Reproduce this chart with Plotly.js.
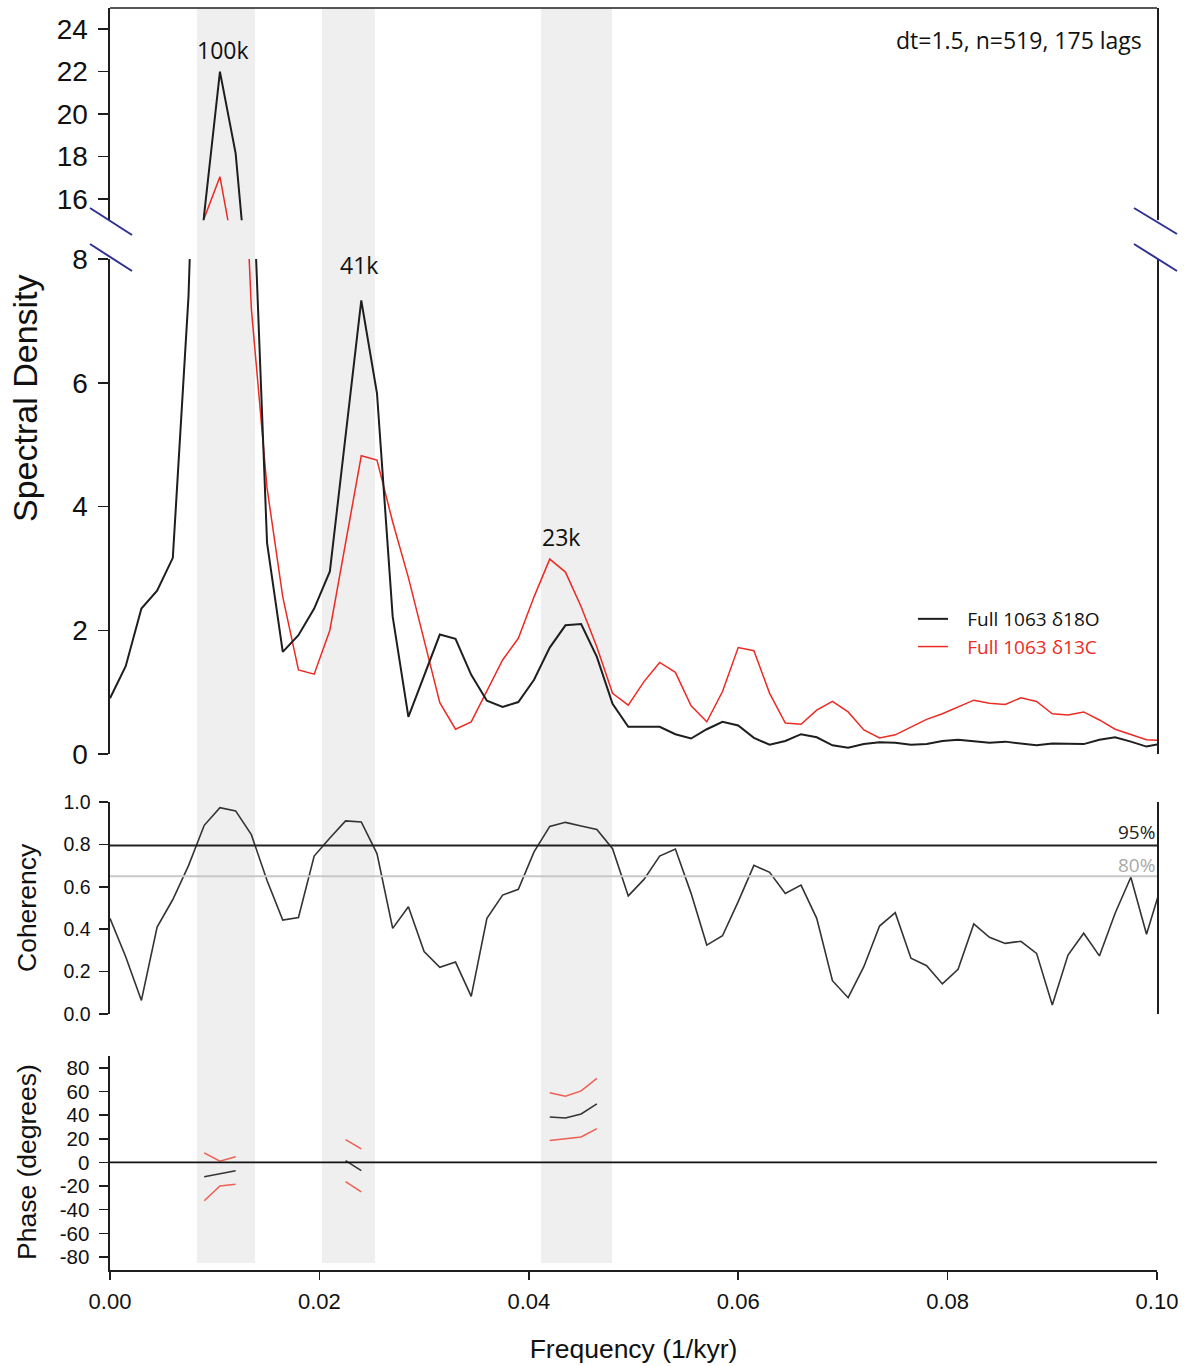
<!DOCTYPE html>
<html>
<head>
<meta charset="utf-8">
<script src="https://cdn.plot.ly/plotly-3.0.1.min.js"></script>
<style>html,body{margin:0;padding:0;background:#fff;}#chart{width:1186px;height:1366px;}</style>
</head>
<body>
<div id="chart"></div>
<script>
// ---------------- DATA ----------------
const freq = [0, 0.0015, 0.003, 0.0045, 0.006, 0.0075, 0.009, 0.0105, 0.012, 0.0135,
  0.015, 0.0165, 0.018, 0.0195, 0.021, 0.0225, 0.024, 0.0255, 0.027, 0.0285,
  0.03, 0.0315, 0.033, 0.0345, 0.036, 0.0375, 0.039, 0.0405, 0.042, 0.0435,
  0.045, 0.0465, 0.048, 0.0495, 0.051, 0.0525, 0.054, 0.0555, 0.057, 0.0585,
  0.06, 0.0615, 0.063, 0.0645, 0.066, 0.0675, 0.069, 0.0705, 0.072, 0.0735,
  0.075, 0.0765, 0.078, 0.0795, 0.081, 0.0825, 0.084, 0.0855, 0.087, 0.0885,
  0.09, 0.0915, 0.093, 0.0945, 0.096, 0.0975, 0.099, 0.1005];

const spec18O = [0.90, 1.42, 2.35, 2.64, 3.17, 7.4, 15.3, 22.0, 18.15, 10.0,
  3.41, 1.65, 1.92, 2.35, 2.95, 5.1, 7.33, 5.83, 2.22, 0.60,
  1.25, 1.93, 1.86, 1.28, 0.86, 0.76, 0.84, 1.20, 1.72, 2.08,
  2.10, 1.57, 0.81, 0.44, 0.44, 0.44, 0.32, 0.25, 0.40, 0.52,
  0.46, 0.26, 0.15, 0.21, 0.32, 0.27, 0.14, 0.10, 0.16, 0.19,
  0.18, 0.15, 0.16, 0.21, 0.23, 0.20, 0.18, 0.20, 0.17, 0.14,
  0.17, 0.17, 0.16, 0.23, 0.27, 0.20, 0.12, 0.17];

const spec13C = [null, null, null, null, null, null, 15.1, 17.05, 13.0, 7.2,
  4.3, 2.54, 1.36, 1.29, 2.0, 3.4, 4.82, 4.75, 3.75, 2.85,
  1.85, 0.83, 0.40, 0.52, 1.02, 1.52, 1.87, 2.54, 3.15, 2.94,
  2.38, 1.73, 0.98, 0.79, 1.17, 1.48, 1.32, 0.78, 0.52, 1.01,
  1.72, 1.67, 0.98, 0.50, 0.48, 0.71, 0.85, 0.68, 0.39, 0.26,
  0.31, 0.44, 0.56, 0.65, 0.76, 0.87, 0.82, 0.80, 0.91, 0.85,
  0.65, 0.63, 0.68, 0.55, 0.40, 0.31, 0.23, 0.22];

const coherency = [0.451, 0.27, 0.064, 0.41, 0.54, 0.70, 0.89, 0.973, 0.958, 0.846,
  0.63, 0.443, 0.455, 0.745, 0.83, 0.911, 0.906, 0.757, 0.404, 0.506,
  0.295, 0.22, 0.245, 0.083, 0.451, 0.561, 0.588, 0.765, 0.885, 0.904,
  0.887, 0.87, 0.78, 0.557, 0.635, 0.745, 0.778, 0.569, 0.325, 0.369,
  0.530, 0.701, 0.668, 0.569, 0.608, 0.451, 0.157, 0.077, 0.223, 0.415,
  0.478, 0.263, 0.228, 0.142, 0.211, 0.425, 0.362, 0.333, 0.343, 0.286,
  0.042, 0.278, 0.381, 0.274, 0.475, 0.645, 0.376, 0.62];

const phaseFreq  = [0.009, 0.0105, 0.012, null, 0.0225, 0.024, null, 0.042, 0.0435, 0.045, 0.0465];
const phaseMid   = [-12.2, -9.8, -7.1, null, 1.5, -7.0, null, 38.5, 37.5, 41.0, 49.5];
const phaseUpper = [8.0, 1.0, 4.8, null, 19.3, 11.4, null, 59.0, 56.0, 60.5, 71.0];
const phaseLower = [-32.4, -20.0, -18.5, null, -16.2, -25.0, null, 18.5, 20.0, 21.5, 28.5];

const bands = [[0.0083, 0.01385], [0.02025, 0.0253], [0.04117, 0.04795]];
const peakLabels = ["100k", "41k", "23k"];
const peakLabelX = [0.0108, 0.0238, 0.0431];
const peakLabelY = [23.0, 7.9, 3.5];
const level95 = 0.795, level80 = 0.65;
const seriesNames = ["Full 1063 δ18O", "Full 1063 δ13C"];
const infoText = "dt=1.5, n=519, 175 lags";
const phaseTicks = [-80, -60, -40, -20, 0, 20, 40, 60, 80];
const phaseTickText = ["-80", "-60", "-40", "-20", "0", "20", "40", "60", "80"];

// ---------------- LAYOUT HELPERS ----------------
const W = 1186, H = 1366;
const px = x => x / W;
const py = y => 1 - y / H;
const BLACK = '#1e1e1e', RED = '#ec2b24', PRED = '#ee5e52', NAVY = '#2e3192';
const AX = 'Liberation Sans, Arial, sans-serif';
const TX = 'Open Sans, Noto Sans, sans-serif';
const GAP = '\u2002\u2005';

const traces = [
  {x: freq, y: spec13C, xaxis: 'x', yaxis: 'y', mode: 'lines', line: {color: RED, width: 1.5}, showlegend: false, hoverinfo: 'skip'},
  {x: freq, y: spec18O, xaxis: 'x', yaxis: 'y', mode: 'lines', line: {color: BLACK, width: 2}, showlegend: false, hoverinfo: 'skip'},
  {x: freq, y: spec13C, xaxis: 'x', yaxis: 'y2', mode: 'lines', line: {color: RED, width: 1.5},
   name: GAP + '<span style="color:' + RED + '">' + seriesNames[1] + '</span>', legendrank: 2},
  {x: freq, y: spec18O, xaxis: 'x', yaxis: 'y2', mode: 'lines', line: {color: BLACK, width: 2},
   name: GAP + seriesNames[0], legendrank: 1},
  {x: freq, y: coherency, xaxis: 'x', yaxis: 'y3', mode: 'lines', line: {color: '#333', width: 1.6}, showlegend: false},
  {x: phaseFreq, y: phaseUpper, xaxis: 'x', yaxis: 'y4', mode: 'lines', line: {color: PRED, width: 1.5}, showlegend: false, connectgaps: false},
  {x: phaseFreq, y: phaseLower, xaxis: 'x', yaxis: 'y4', mode: 'lines', line: {color: PRED, width: 1.5}, showlegend: false, connectgaps: false},
  {x: phaseFreq, y: phaseMid, xaxis: 'x', yaxis: 'y4', mode: 'lines', line: {color: '#333', width: 1.5}, showlegend: false, connectgaps: false}
];

const yBase = {
  showline: true, linecolor: BLACK, linewidth: 1.6, ticks: 'outside', tickcolor: BLACK,
  tickwidth: 1.5, showgrid: false, zeroline: false, anchor: 'x', fixedrange: true,
  tickfont: {family: AX, color: '#111'}
};

const shapes = [];
bands.forEach(b => shapes.push({type: 'rect', xref: 'x', yref: 'paper', x0: b[0], x1: b[1],
  y0: py(1263), y1: py(8), fillcolor: '#efefef', line: {width: 0}, layer: 'below'}));
shapes.push({type: 'line', xref: 'paper', yref: 'paper', x0: px(110), x1: px(1157), y0: py(8), y1: py(8), line: {color: BLACK, width: 1.6}});
shapes.push({type: 'line', xref: 'x', yref: 'y3', x0: 0, x1: 0.1, y0: level95, y1: level95, line: {color: '#222', width: 2}});
shapes.push({type: 'line', xref: 'x', yref: 'y3', x0: 0, x1: 0.1, y0: level80, y1: level80, line: {color: '#c8c8c8', width: 2}});
shapes.push({type: 'line', xref: 'x', yref: 'y4', x0: 0, x1: 0.1, y0: 0, y1: 0, line: {color: '#111', width: 1.8}});
[[90, 208, 132, 235], [90, 244, 132, 271], [1134, 208, 1177, 234], [1134, 244, 1177, 271]].forEach(s =>
  shapes.push({type: 'line', xref: 'paper', yref: 'paper', x0: px(s[0]), y0: py(s[1]), x1: px(s[2]), y1: py(s[3]), line: {color: NAVY, width: 2}}));

const annotations = [];
peakLabels.forEach((t, i) => annotations.push({xref: 'x', yref: i === 0 ? 'y' : 'y2', x: peakLabelX[i], y: peakLabelY[i],
  text: t, showarrow: false, font: {family: TX, size: 23, color: '#111'}, xanchor: 'center', yanchor: 'middle'}));
annotations.push({xref: 'paper', yref: 'paper', x: px(1144), y: py(40), text: infoText, showarrow: false,
  xanchor: 'right', yanchor: 'middle', font: {family: TX, size: 23, color: '#111'}});
annotations.push({xref: 'paper', yref: 'paper', x: px(1157), y: py(832), text: '95%', showarrow: false,
  xanchor: 'right', yanchor: 'middle', font: {family: TX, size: 19, color: '#222'}});
annotations.push({xref: 'paper', yref: 'paper', x: px(1157), y: py(865), text: '80%', showarrow: false,
  xanchor: 'right', yanchor: 'middle', font: {family: TX, size: 19, color: '#aaaaaa'}});
annotations.push({xref: 'paper', yref: 'paper', x: px(25), y: py(398), text: 'Spectral Density', textangle: -90, showarrow: false,
  xanchor: 'center', yanchor: 'middle', font: {family: AX, size: 34, color: '#111'}});
annotations.push({xref: 'paper', yref: 'paper', x: px(27), y: py(908), text: 'Coherency', textangle: -90, showarrow: false,
  xanchor: 'center', yanchor: 'middle', font: {family: AX, size: 26.5, color: '#111'}});
annotations.push({xref: 'paper', yref: 'paper', x: px(27), y: py(1162), text: 'Phase (degrees)', textangle: -90, showarrow: false,
  xanchor: 'center', yanchor: 'middle', font: {family: AX, size: 26.5, color: '#111'}});

const layout = {
  width: W, height: H,
  margin: {l: 0, r: 0, t: 0, b: 0, pad: 0},
  paper_bgcolor: '#ffffff', plot_bgcolor: 'rgba(0,0,0,0)',
  showlegend: true,
  legend: {x: px(913), y: py(600), xanchor: 'left', yanchor: 'top', bgcolor: 'rgba(0,0,0,0)',
    font: {family: TX, size: 19, color: '#111'}, itemwidth: 30, tracegroupgap: 0},
  xaxis: {domain: [px(110), px(1157)], range: [0, 0.1], anchor: 'y4', showline: true, linecolor: BLACK, linewidth: 1.6,
    ticks: 'outside', ticklen: 8, tickwidth: 1.5, tickcolor: BLACK, tickvals: [0, 0.02, 0.04, 0.06, 0.08, 0.1],
    tickformat: '.2f', tickfont: {family: AX, size: 22, color: '#111'}, ticklabelstandoff: 3,
    showgrid: false, zeroline: false, fixedrange: true,
    title: {text: 'Frequency (1/kyr)', font: {family: AX, size: 26.5, color: '#111'}, standoff: 26}},
  yaxis: Object.assign({}, yBase, {domain: [py(220.25), py(8)], range: [15, 25], tickvals: [16, 18, 20, 22, 24],
    mirror: true, ticklen: 10, ticklabelstandoff: 5, tickfont: {family: AX, size: 28, color: '#111'}}),
  yaxis2: Object.assign({}, yBase, {domain: [py(754), py(259)], range: [0, 8], tickvals: [0, 2, 4, 6, 8],
    mirror: true, ticklen: 10, ticklabelstandoff: 5, tickfont: {family: AX, size: 28, color: '#111'}}),
  yaxis3: Object.assign({}, yBase, {domain: [py(1014), py(802)], range: [0, 1], tickvals: [0, 0.2, 0.4, 0.6, 0.8, 1.0],
    tickformat: '.1f', mirror: true, ticklen: 9, ticklabelstandoff: 5, tickfont: {family: AX, size: 19.5, color: '#111'}}),
  yaxis4: Object.assign({}, yBase, {domain: [py(1270), py(1056)], range: [-91, 90], tickvals: phaseTicks, ticktext: phaseTickText,
    ticklen: 9, ticklabelstandoff: 6, tickfont: {family: AX, size: 20.5, color: '#111'}}),
  shapes: shapes,
  annotations: annotations
};

Plotly.newPlot('chart', traces, layout, {staticPlot: true, displayModeBar: false});
</script>
</body>
</html>
